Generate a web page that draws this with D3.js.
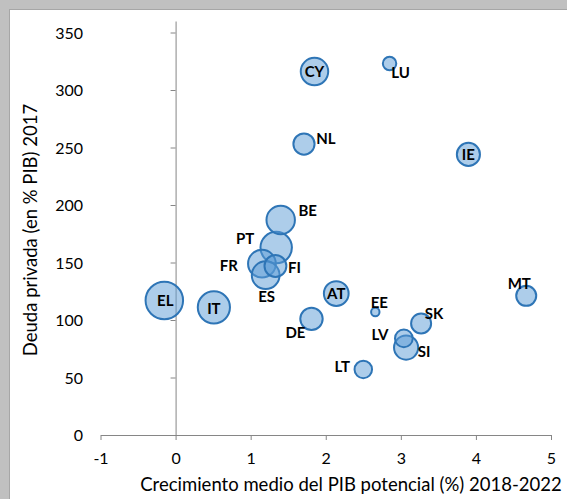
<!DOCTYPE html>
<html>
<head>
<meta charset="utf-8">
<script src="https://cdn.jsdelivr.net/npm/d3@7"></script>
<style>
  body { margin: 0; background: #c0c0c0; }
  svg { display: block; }
  .tick text { font-family: Lato, "Liberation Sans", sans-serif; font-size: 16px; fill: #000; }
  .lbl { font-family: Lato, "Liberation Sans", sans-serif; font-weight: bold; font-size: 15px; fill: #000; }
  .axis-title { font-family: Lato, "Liberation Sans", sans-serif; font-size: 18.5px; fill: #000; }
</style>
</head>
<body>
<div id="chart"></div>
<script>
// data: country code, potential GDP growth 2018-2022, private debt 2017, bubble size (public debt 2017)
var countries = ["CY", "LU", "NL", "IE", "BE", "PT", "FR", "FI", "ES", "EL", "IT", "AT", "EE", "DE", "LV", "SK", "SI", "LT", "MT"];
var growth    = [1.85, 2.85, 1.71, 3.90, 1.40, 1.34, 1.15, 1.33, 1.20, -0.15, 0.51, 2.14, 2.66, 1.81, 3.04, 3.27, 3.07, 2.50, 4.67];
var privDebt  = [316, 323, 253, 244, 187, 163, 149, 147, 139, 117, 111, 123, 107, 101, 84, 97, 76, 57, 121];
var pubDebt   = [96, 23, 57, 68, 103, 126, 98, 61, 98, 179, 132, 78, 9, 64, 40, 51, 74, 39, 51];

var xTicks = [-1, 0, 1, 2, 3, 4, 5];
var yTicks = [0, 50, 100, 150, 200, 250, 300, 350];

var svgWidth = 567;
var svgHeight = 499;

// label placement relative to bubble centre (px)
var labelOffset = {
    CY: [0, 0], LU: [11, 9], NL: [22, -5], IE: [0, 0], BE: [27, -9],
    PT: [-31, -9], FR: [-33, 2], FI: [19, 2], ES: [1, 22], EL: [1, 0],
    IT: [0, 1], AT: [0, 0], EE: [4, -9], DE: [-16, 14], LV: [-24, -4],
    SK: [13, -10], SI: [18, 4], LT: [-21, -3], MT: [-7, -12]
};

var data = countries.map(function (c, i) {
    return { code: c, x: growth[i], y: privDebt[i], size: pubDebt[i] };
});

var svg = d3.select("#chart")
    .append("svg")
    .attr("width", svgWidth)
    .attr("height", svgHeight);

// white chart area with a grey frame at top/left
svg.append("rect")
    .attr("x", 9.5)
    .attr("y", 9.5)
    .attr("width", svgWidth + 20)
    .attr("height", svgHeight + 20)
    .attr("fill", "#fff")
    .attr("stroke", "#a6a6a6");

var xScale = d3.scaleLinear().domain([-1, 5]).range([100.5, 551]);
var yScale = d3.scaleLinear().domain([0, 360]).range([435, 21]);
var rScale = d3.scaleSqrt().domain([0, 180]).range([0, 18.8]);

var axisColor = "#868686";

// x axis at y = 0
var xAxis = svg.append("g")
    .attr("transform", `translate(0, ${yScale(0)})`)
    .call(d3.axisBottom(xScale).tickValues(xTicks).tickSize(5).tickSizeOuter(0).tickFormat(d => String(d)));
xAxis.select(".domain").attr("stroke", axisColor);
xAxis.selectAll(".tick line").attr("stroke", axisColor);
xAxis.selectAll(".tick text").attr("y", 23).attr("dy", "0.35em");

// y axis at x = 0, labels kept at the left of the plot
var yAxis = svg.append("g")
    .attr("transform", `translate(${xScale(0)}, 0)`)
    .call(d3.axisLeft(yScale).tickValues(yTicks).tickSize(5).tickSizeOuter(0));
yAxis.select(".domain").attr("stroke", axisColor);
yAxis.selectAll(".tick line").attr("stroke", axisColor);
yAxis.selectAll(".tick text")
    .attr("x", 83 - xScale(0))
    .attr("dy", "0.35em");

// bubbles, biggest first so small ones stay on top
var sorted = data.slice().sort(function (a, b) { return b.size - a.size; });
svg.append("g")
    .selectAll("circle")
    .data(sorted)
    .enter()
    .append("circle")
    .attr("cx", d => xScale(d.x))
    .attr("cy", d => yScale(d.y))
    .attr("r", d => rScale(d.size))
    .attr("fill", "#5b9bd5")
    .attr("fill-opacity", 0.5)
    .attr("stroke", "#2e75b6")
    .attr("stroke-width", 2);

// country labels
svg.append("g")
    .selectAll("text")
    .data(data)
    .enter()
    .append("text")
    .attr("class", "lbl")
    .attr("x", d => xScale(d.x) + labelOffset[d.code][0])
    .attr("y", d => yScale(d.y) + labelOffset[d.code][1])
    .attr("dy", "0.35em")
    .attr("text-anchor", "middle")
    .text(d => d.code);

// axis titles
svg.append("text")
    .attr("class", "axis-title")
    .attr("x", 351)
    .attr("y", 491)
    .attr("text-anchor", "middle")
    .text("Crecimiento medio del PIB potencial (%) 2018-2022");

svg.append("text")
    .attr("class", "axis-title")
    .attr("transform", "rotate(-90)")
    .attr("x", -230)
    .attr("y", 37)
    .attr("text-anchor", "middle")
    .text("Deuda privada (en % PIB) 2017");
</script>
</body>
</html>
